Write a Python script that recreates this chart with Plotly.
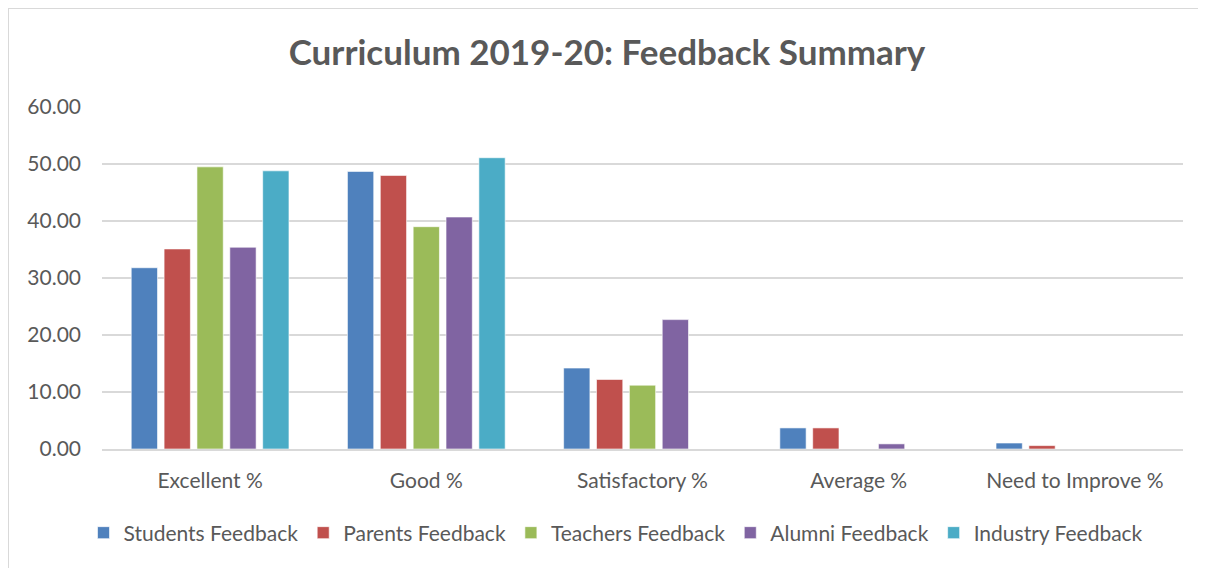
import plotly.graph_objects as go

categories = ["Excellent %", "Good %", "Satisfactory %", "Average %", "Need to Improve %"]
series_names = ["Students Feedback", "Parents Feedback", "Teachers Feedback", "Alumni Feedback", "Industry Feedback"]
students = [31.8, 48.7, 14.2, 3.7, 1.05]
parents = [35.1, 48.0, 12.2, 3.7, 0.6]
teachers = [49.5, 39.0, 11.2, 0.0, 0.0]
alumni = [35.4, 40.7, 22.7, 0.9, 0.0]
industry = [48.8, 51.1, 0.0, 0.0, 0.0]
colors = ["#4F81BD", "#C0504D", "#9BBB59", "#8064A2", "#4BACC6"]
y_ticks = [0, 10, 20, 30, 40, 50, 60]

series_values = [students, parents, teachers, alumni, industry]

FONT = "Lato, Calibri, Carlito, sans-serif"
fig = go.Figure()
for name, vals, col in zip(series_names, series_values, colors):
    fig.add_trace(go.Bar(name=name, x=categories, y=vals,
                         marker=dict(color=col, line=dict(color="rgba(255,255,255,0.6)", width=1))))

# page has an 8px body margin: figure origin is at page (8, 8)
OFF = 8
W, H = 1198, 560
L, R, T, B = 102 - OFF, 23, 107 - OFF, 119
pw, ph = W - L - R, H - T - B

def px(x):  # page x -> paper
    return (x - OFF - L) / pw

def py(y):  # page y -> paper
    return (H - B - (y - OFF)) / ph

fig.update_layout(
    width=W, height=H,
    margin=dict(l=L, r=R, t=T, b=B),
    paper_bgcolor="white", plot_bgcolor="white",
    barmode="group", bargap=0.24, bargroupgap=0.2,
    title=dict(text="<b>Curriculum 2019-20: Feedback Summary</b>", x=0.5, xanchor="center",
               y=1 - (53 - OFF) / H, yanchor="middle",
               font=dict(family=FONT, size=35, color="#595959")),
    font=dict(family=FONT, size=21, color="#595959"),
    legend=dict(orientation="h", x=px(616), xanchor="center",
                y=py(533), yanchor="middle",
                font=dict(size=21, color="#595959"), itemwidth=30, traceorder="normal"),
    xaxis=dict(showgrid=False, showline=True, linecolor="#d9d9d9", linewidth=2, ticks="",
               tickfont=dict(size=21, color="#595959"), ticklabelstandoff=12),
    yaxis=dict(range=[0, 60], tickvals=y_ticks, tickformat=".2f", showgrid=True,
               gridcolor="#d9d9d9", gridwidth=1.5, zeroline=False, showline=False,
               tickfont=dict(size=21, color="#595959"), ticklabelstandoff=20),
    shapes=[
        dict(type="line", xref="paper", yref="paper", x0=px(8), x1=px(8), y0=py(8), y1=py(580),
             line=dict(color="#d9d9d9", width=2)),
        dict(type="line", xref="paper", yref="paper", x0=px(8), x1=px(1220), y0=py(8), y1=py(8),
             line=dict(color="#d9d9d9", width=2)),
    ],
)

fig.write_html("out.html")
